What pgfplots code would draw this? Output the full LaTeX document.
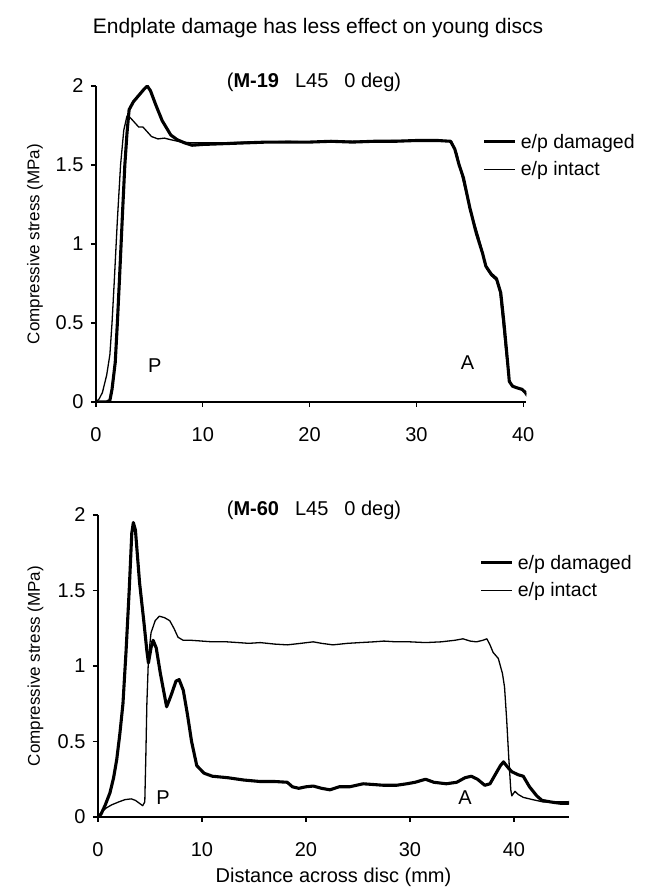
\documentclass[border=0pt]{standalone}
\usepackage{fontspec}
\setmainfont{Liberation Sans}
\usepackage{pgfplots}
\pgfplotsset{compat=1.18}
\newcommand{\fs}{\fontsize{20}{23}\selectfont}
\newcommand{\fl}{\fontsize{19.5}{22}\selectfont}
\pgfplotsset{
  mystyle/.style={
    scale only axis,
    axis lines*=left,
    axis line style={line width=1.3pt,-},
    tick align=outside,
    major tick length=5pt,
    tick style={line width=1.2pt,black},
    ymin=0, ymax=2,
    ytick={0,0.5,1,1.5,2},
    xtick={0,10,20,30,40},
    /pgf/number format/assume math mode=true,
    tick label style={font=\fs},
    xticklabel style={yshift=-17pt},
    yticklabel style={xshift=-4pt},
    ylabel style={font=\fontsize{17}{20}\selectfont},
    xlabel style={font=\fs},
    ylabel={Compressive stress (MPa)},
    legend cell align=left,
    legend style={draw=none,fill=none,font=\fl,inner sep=0pt,row sep=8pt,
      /tikz/every odd column/.append style={column sep=2pt}},
    legend image code/.code={\draw[#1] (0pt,0pt) -- (31pt,0pt);},
  },
  dmg/.style={black,line width=3.1pt,line join=round},
  int/.style={black,line width=1.3pt,line join=round},
}
\begin{document}
\begin{tikzpicture}
\useasboundingbox (0pt,0pt) rectangle (645pt,893pt);
\node[font=\fontsize{21}{24}\selectfont] at (318pt,865pt) {Endplate damage has less effect on young discs};
\node[font=\fs] at (314pt,811pt) {(\textbf{M-19}\hspace{0.8em}L45\hspace{0.8em}0 deg)};
\node[font=\fs] at (314pt,383pt) {(\textbf{M-60}\hspace{0.8em}L45\hspace{0.8em}0 deg)};
% top axis
\begin{axis}[mystyle,
  at={(96pt,491pt)}, anchor=origin,
  width=430.4pt, height=316pt,
  xmin=0, xmax=40.3,
  ylabel style={at={(axis description cs:-0.142,0.5)},anchor=center},
  legend style={at={(axis description cs:0.898,0.855)},anchor=north west},
]
\addplot[dmg] coordinates {(0,0) (1.0,0) (1.3,0.01) (1.5,0.08) (1.8,0.25) (2.0,0.5) (2.2,0.78) (2.5,1.22) (2.7,1.5) (2.9,1.7) (3.1,1.85) (3.5,1.9) (4.0,1.94) (4.5,1.98) (4.8,2.0) (5.1,1.97) (5.6,1.88) (6.2,1.78) (7.0,1.69) (7.6,1.66) (8.3,1.64) (9.0,1.625) (10,1.63) (12,1.635) (14,1.64) (16,1.645) (18,1.645) (20,1.645) (22,1.65) (24,1.645) (26,1.65) (28,1.65) (30,1.655) (32,1.655) (33.2,1.65) (33.6,1.6) (34.0,1.5) (34.4,1.42) (35.0,1.23) (35.6,1.07) (36.2,0.94) (36.5,0.86) (37.0,0.81) (37.5,0.78) (37.9,0.69) (38.2,0.5) (38.5,0.28) (38.7,0.13) (39.0,0.1) (39.4,0.09) (39.9,0.08) (40.2,0.06) (40.4,0.04)};
\addlegendentry{e/p damaged}
\addplot[int] coordinates {(0,0) (0.3,0.02) (0.6,0.06) (1.0,0.17) (1.3,0.3) (1.5,0.5) (1.7,0.75) (2.0,1.15) (2.3,1.5) (2.6,1.72) (2.9,1.81) (3.2,1.8) (3.6,1.77) (4.0,1.74) (4.4,1.74) (4.8,1.71) (5.2,1.68) (5.8,1.665) (6.4,1.67) (7.0,1.66) (8.0,1.645) (9,1.64) (10,1.64) (12,1.64) (14,1.645) (16,1.645) (18,1.65) (20,1.645) (22,1.65) (24,1.65) (26,1.65) (28,1.655) (30,1.655) (32,1.655) (33.3,1.65) (33.8,1.57) (34.3,1.42) (34.8,1.28) (35.3,1.16) (35.8,1.05) (36.3,0.92) (36.6,0.84) (37.0,0.80) (37.5,0.77) (37.8,0.7) (38.1,0.5) (38.4,0.3) (38.7,0.14) (39.0,0.1) (39.5,0.09) (40.0,0.07) (40.3,0.05)};
\addlegendentry{e/p intact}
\node[font=\fs] at (axis cs:5.5,0.23) {P};
\node[font=\fs] at (axis cs:34.8,0.25) {A};
\end{axis}
% bottom axis
\begin{axis}[mystyle,
  at={(98pt,76pt)}, anchor=origin,
  width=471pt, height=302pt,
  xmin=0, xmax=45.3,
  ylabel style={at={(axis description cs:-0.133,0.5)},anchor=center},
  xlabel={Distance across disc (mm)},
  xlabel style={at={(axis description cs:0.5,-0.2)},anchor=center},
  legend style={at={(axis description cs:0.81,0.875)},anchor=north west},
]
\addplot[dmg] coordinates {(0,0) (0.3,0.02) (0.7,0.08) (1.15,0.16) (1.5,0.26) (1.8,0.38) (2.1,0.55) (2.4,0.75) (2.7,1.1) (3.0,1.5) (3.25,1.88) (3.4,1.95) (3.6,1.9) (4.0,1.55) (4.4,1.3) (4.7,1.1) (4.85,1.02) (5.1,1.12) (5.3,1.17) (5.6,1.12) (6.0,0.95) (6.6,0.73) (7.0,0.8) (7.5,0.9) (7.8,0.91) (8.2,0.84) (8.6,0.68) (9.0,0.5) (9.5,0.34) (10.2,0.29) (11,0.27) (12.5,0.26) (14,0.245) (15.6,0.235) (17,0.235) (18.2,0.23) (18.7,0.2) (19.3,0.19) (20,0.2) (20.7,0.205) (21.5,0.19) (22.3,0.18) (23.2,0.2) (24.2,0.2) (25.5,0.22) (26.5,0.215) (27.5,0.21) (28.7,0.21) (29.7,0.22) (30.5,0.23) (31.5,0.25) (32.3,0.23) (33.5,0.22) (34.5,0.23) (35.3,0.26) (35.9,0.27) (36.5,0.25) (37.2,0.21) (37.7,0.22) (38.2,0.28) (38.7,0.34) (39.0,0.365) (39.4,0.33) (39.8,0.3) (40.4,0.28) (40.9,0.27) (41.5,0.2) (42.2,0.14) (42.7,0.11) (43.5,0.1) (44.0,0.095) (44.6,0.09) (45.2,0.09) (45.4,0.1)};
\addlegendentry{e/p damaged}
\addplot[int] coordinates {(0,0) (0.3,0.03) (0.8,0.06) (1.3,0.08) (2.0,0.1) (2.6,0.115) (3.2,0.12) (3.6,0.11) (4.0,0.09) (4.3,0.075) (4.5,0.1) (4.6,0.4) (4.7,0.75) (4.85,1.05) (5.1,1.22) (5.5,1.3) (5.9,1.33) (6.4,1.32) (6.9,1.3) (7.3,1.25) (7.7,1.19) (8.2,1.17) (9,1.17) (10,1.165) (11,1.16) (12.4,1.16) (13.5,1.155) (14.5,1.15) (15.6,1.155) (17,1.145) (18.2,1.14) (19.5,1.15) (20.7,1.16) (21.5,1.15) (22.6,1.14) (24,1.15) (25.2,1.155) (26.5,1.16) (27.5,1.165) (28.7,1.16) (30,1.16) (31.5,1.155) (33,1.16) (34.3,1.17) (35.1,1.18) (35.8,1.165) (36.4,1.16) (37.0,1.17) (37.4,1.18) (37.7,1.14) (38.0,1.09) (38.5,1.05) (38.9,0.95) (39.1,0.86) (39.3,0.65) (39.5,0.4) (39.7,0.18) (39.8,0.14) (40.1,0.17) (40.4,0.15) (40.9,0.13) (41.8,0.115) (42.8,0.1) (43.5,0.1) (44.4,0.1) (45.2,0.1)};
\addlegendentry{e/p intact}
\node[font=\fs] at (axis cs:6.25,0.13) {P};
\node[font=\fs] at (axis cs:35.3,0.13) {A};
\end{axis}
\end{tikzpicture}
\end{document}
